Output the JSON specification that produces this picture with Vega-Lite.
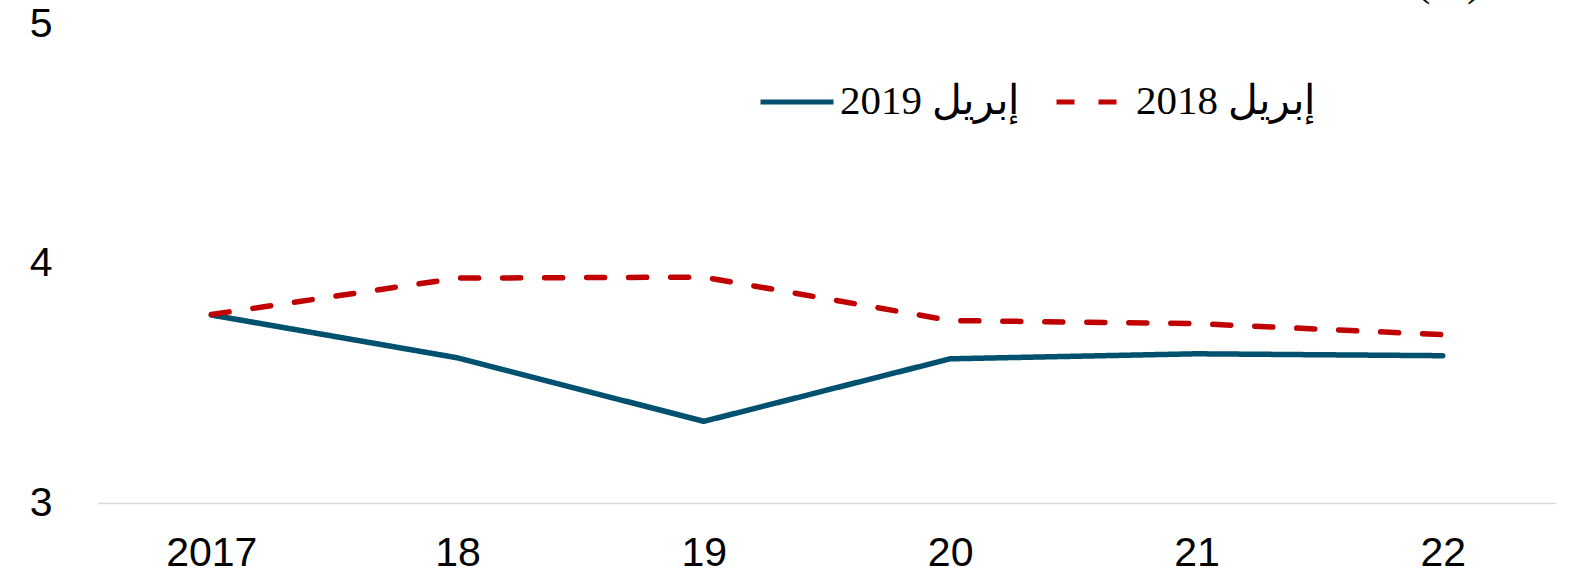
{
  "$schema": "https://vega.github.io/schema/vega-lite/v6.json",
  "width": 1458,
  "height": 479,
  "autosize": {"type": "none"},
  "padding": {"left": 98, "top": 24, "right": 30, "bottom": 77},
  "background": "white",
  "config": {
    "view": {"stroke": null},
    "font": "Liberation Sans"
  },
  "layer": [
    {
      "data": {
        "values": [
          {"year": "2017", "series": "2019 إبريل", "value": 3.785},
          {"year": "18", "series": "2019 إبريل", "value": 3.606},
          {"year": "19", "series": "2019 إبريل", "value": 3.341},
          {"year": "20", "series": "2019 إبريل", "value": 3.602},
          {"year": "21", "series": "2019 إبريل", "value": 3.623},
          {"year": "22", "series": "2019 إبريل", "value": 3.615},
          {"year": "2017", "series": "2018 إبريل", "value": 3.787},
          {"year": "18", "series": "2018 إبريل", "value": 3.939},
          {"year": "19", "series": "2018 إبريل", "value": 3.943},
          {"year": "20", "series": "2018 إبريل", "value": 3.762},
          {"year": "21", "series": "2018 إبريل", "value": 3.749},
          {"year": "22", "series": "2018 إبريل", "value": 3.703}
        ]
      },
      "mark": {"type": "line", "strokeWidth": 5.5, "strokeCap": "round", "strokeJoin": "round"},
      "encoding": {
        "x": {
          "field": "year", "type": "ordinal", "sort": null,
          "scale": {"type": "point", "padding": 0.46},
          "axis": {
            "title": null, "labelAngle": 0, "labelFontSize": 41, "labelColor": "black",
            "labelFont": "Liberation Sans", "labelPadding": 30, "ticks": false,
            "domainColor": "#d9d9d9", "domainWidth": 1.5, "grid": false
          }
        },
        "y": {
          "field": "value", "type": "quantitative",
          "scale": {"domain": [3, 5], "nice": false, "zero": false},
          "axis": {
            "title": null, "values": [3, 4, 5], "labelExpr": "toString(round(datum.value))", "labelFontSize": 41, "labelColor": "black",
            "labelFont": "Liberation Sans", "labelPadding": 46, "ticks": false,
            "labelOverlap": false, "labelFlush": false,
            "domain": false, "grid": false
          }
        },
        "color": {
          "field": "series", "type": "nominal",
          "scale": {"domain": ["2019 إبريل", "2018 إبريل"], "range": ["#00506f", "#c00000"]},
          "legend": {
            "title": null, "orient": "none", "legendX": 660, "legendY": 39,
            "direction": "horizontal", "symbolType": "stroke", "symbolSize": 5329,
            "symbolStrokeWidth": 5, "labelFont": "Liberation Serif", "labelFontSize": 41,
            "labelColor": "black", "labelOffset": 4, "columnPadding": 26, "labelLimit": 400
          }
        },
        "strokeDash": {
          "field": "series", "type": "nominal",
          "scale": {"domain": ["2019 إبريل", "2018 إبريل"], "range": [[1, 0], [18, 24]]},
          "legend": {
            "title": null, "orient": "none", "legendX": 660, "legendY": 39,
            "direction": "horizontal", "symbolType": "stroke", "symbolSize": 5329,
            "symbolStrokeWidth": 5, "labelFont": "Liberation Serif", "labelFontSize": 41,
            "labelColor": "black", "labelOffset": 4, "columnPadding": 26, "labelLimit": 400
          }
        }
      }
    },
    {
      "data": {"values": [{"label": "(%)"}]},
      "mark": {"type": "text", "font": "Liberation Serif", "fontSize": 44, "align": "center", "baseline": "alphabetic", "dx": 6, "dy": -29, "color": "black"},
      "encoding": {
        "x": {"datum": "22"},
        "y": {"datum": 5},
        "text": {"field": "label"}
      }
    }
  ]
}
